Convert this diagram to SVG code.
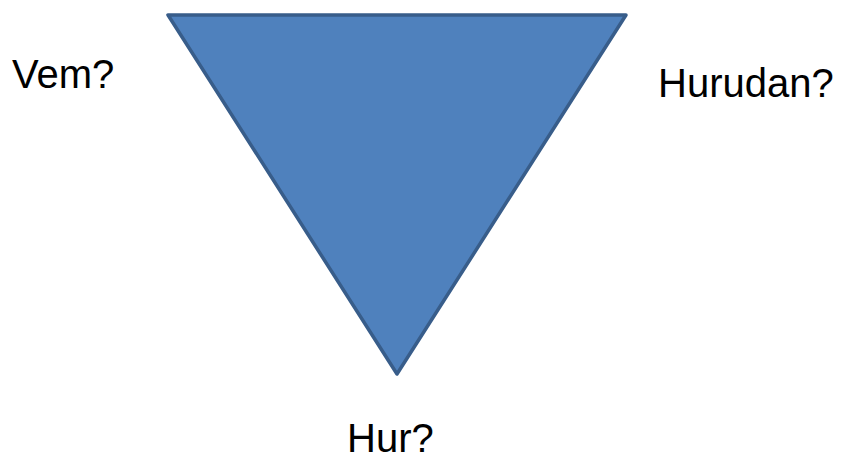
<svg xmlns="http://www.w3.org/2000/svg" width="848" height="461" viewBox="0 0 848 461">
<style>
.lbl{font-family:"Liberation Sans",Arial,sans-serif;font-size:40px;fill:#000}
.tri{fill:#4F81BD;stroke:#385D8A;stroke-width:3.5;stroke-linejoin:round}
</style>
<rect width="848" height="461" fill="#fff"/>
<g id="triangle"><polygon class="tri" points="168,15 626,15 397,374"/></g>
<g id="vem"><text class="lbl" x="12" y="88">Vem?</text></g>
<g id="hurudan"><text class="lbl" x="658" y="97">Hurudan?</text></g>
<g id="hur"><text class="lbl" x="347" y="452">Hur?</text></g>
<g id="connectors"></g>
</svg>
